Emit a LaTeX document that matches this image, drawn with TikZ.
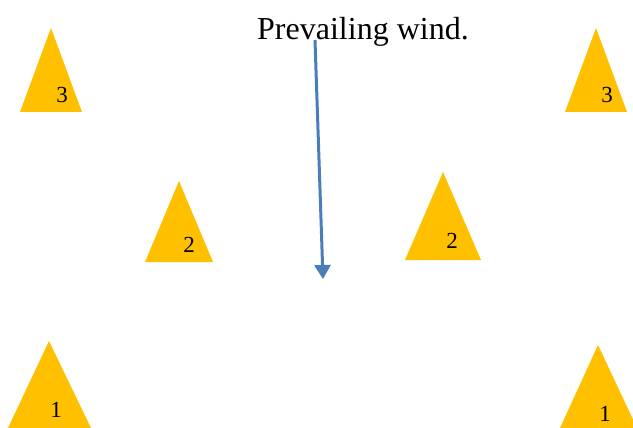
\documentclass[tikz,border=0pt]{standalone}
\usepackage{fontspec}
\setmainfont{Liberation Serif}
\usetikzlibrary{arrows.meta}
\definecolor{pylongold}{HTML}{FFC000}
\definecolor{windblue}{HTML}{4A7EBB}

\begin{document}
\begin{tikzpicture}[x=1pt, y=-1pt, >={Triangle[length=14pt,width=16pt]},
    every node/.style={inner sep=0pt},
    pylon/.style={fill=pylongold, draw=none},
    num/.style={font=\fontsize{23}{26}\selectfont}]
  \clip (0,0) rectangle (633,428);
  
  \fill[white] (0,0) rectangle (633,428);
  % row 3
  \fill[pylon] (51,28) -- (82,112) -- (20,112) -- cycle;
  \node[num] (TL) at (62,95) {3};
  \fill[pylon] (596,28) -- (627,112) -- (565,112) -- cycle;
  \node[num] (TR) at (607,95) {3};
  % row 2
  \fill[pylon] (179,181) -- (213,262) -- (145,262) -- cycle;
  \node[num] (ML) at (189,245) {2};
  \fill[pylon] (443,172) -- (481,260) -- (405,260) -- cycle;
  \node[num] (MR) at (452,241) {2};
  % row 1
  \fill[pylon] (49,341) -- (91,428) -- (8,428) -- cycle;
  \node[num] (BL) at (56,410) {1};
  \fill[pylon] (598,345) -- (637,428) -- (560,428) -- cycle;
  \node[num] (BR) at (605,414) {1};
  
  \node[anchor=base west, font=\fontsize{32}{38}\selectfont] (W) at (257,40) {Prevailing wind.};
  \coordinate (windtop) at (315,40);
  \coordinate (windtip) at (323,279);
  \draw[->, windblue, line width=3pt] (windtop) -- (windtip);
\end{tikzpicture}
\end{document}
